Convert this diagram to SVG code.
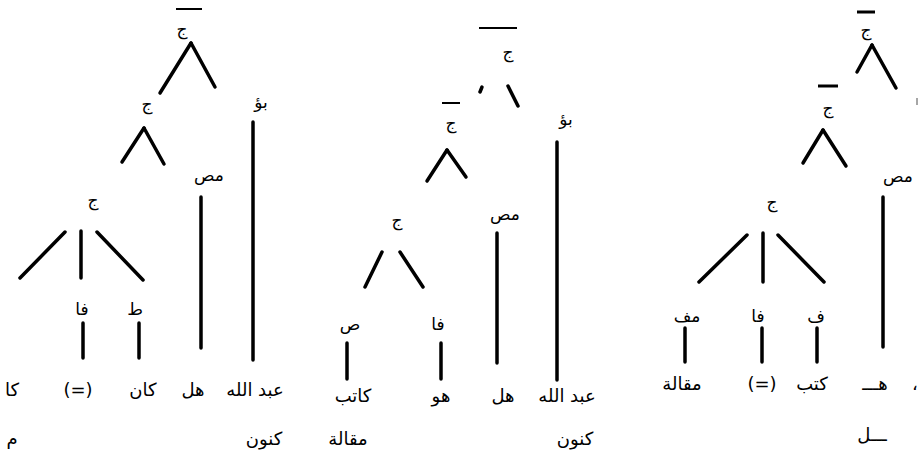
<svg xmlns="http://www.w3.org/2000/svg" width="924" height="456" viewBox="0 0 924 456">
<style>
.lb{font-family:"DejaVu Sans",sans-serif;font-size:17px;fill:#000;text-anchor:middle}
.wd{font-family:"DejaVu Sans",sans-serif;font-size:18px;fill:#000;text-anchor:middle}
.ln{stroke:#000;stroke-width:3.5;stroke-linecap:round;fill:none}
.bar{stroke:#000;stroke-width:2;fill:none}
.tk{stroke:#888;stroke-width:1.5;fill:none}
</style>
<rect width="924" height="456" fill="#fff"/>
<g id="connectors">
  <!-- left tree -->
  <line class="ln" x1="191" y1="43" x2="160" y2="93"/>
  <line class="ln" x1="191" y1="43" x2="215" y2="87"/>
  <line class="ln" x1="144" y1="128" x2="122" y2="162"/>
  <line class="ln" x1="144" y1="128" x2="164" y2="164"/>
  <line class="ln" x1="253" y1="122" x2="253" y2="360"/>
  <line class="ln" x1="201" y1="197" x2="201" y2="348"/>
  <line class="ln" x1="65" y1="232" x2="20" y2="278"/>
  <line class="ln" x1="81" y1="231" x2="81" y2="278"/>
  <line class="ln" x1="97" y1="232" x2="143" y2="280"/>
  <line class="ln" x1="83" y1="323" x2="83" y2="358"/>
  <line class="ln" x1="139" y1="323" x2="139" y2="358"/>
  <!-- middle tree -->
  <line class="ln" x1="482" y1="87" x2="480" y2="92"/>
  <line class="ln" x1="508" y1="86" x2="518" y2="106"/>
  <line class="ln" x1="447" y1="150" x2="427" y2="181"/>
  <line class="ln" x1="447" y1="150" x2="466" y2="177"/>
  <line class="ln" x1="557" y1="142" x2="557" y2="380"/>
  <line class="ln" x1="497" y1="233" x2="497" y2="363"/>
  <line class="ln" x1="382" y1="252" x2="365" y2="287"/>
  <line class="ln" x1="400" y1="252" x2="423" y2="287"/>
  <line class="ln" x1="347" y1="343" x2="347" y2="379"/>
  <line class="ln" x1="441" y1="343" x2="441" y2="379"/>
  <!-- right tree -->
  <line class="ln" x1="872" y1="45" x2="857" y2="72"/>
  <line class="ln" x1="872" y1="45" x2="896" y2="88"/>
  <line class="ln" x1="823" y1="130" x2="803" y2="163"/>
  <line class="ln" x1="823" y1="130" x2="846" y2="166"/>
  <line class="ln" x1="883" y1="197" x2="883" y2="347"/>
  <line class="ln" x1="747" y1="235" x2="699" y2="282"/>
  <line class="ln" x1="763" y1="233" x2="763" y2="282"/>
  <line class="ln" x1="778" y1="235" x2="824" y2="282"/>
  <line class="ln" x1="685" y1="328" x2="685" y2="362"/>
  <line class="ln" x1="762" y1="328" x2="762" y2="362"/>
  <line class="ln" x1="817" y1="328" x2="817" y2="362"/>
  <line class="tk" x1="917" y1="98" x2="917" y2="105"/>
</g>
<!-- left tree nodes -->
<g id="L-root"><line class="bar" x1="176" y1="9" x2="202" y2="9"/><text class="lb" x="182" y="35">ج</text></g>
<g id="L-j2"><text class="lb" x="147" y="110">ج</text></g>
<g id="L-bu"><text class="lb" x="261" y="108">بؤ</text></g>
<g id="L-mas"><text class="lb" x="209" y="181">مص</text></g>
<g id="L-j3"><text class="lb" x="93" y="206">ج</text></g>
<g id="L-fa"><text class="lb" x="82" y="315">فا</text></g>
<g id="L-ta"><text class="lb" x="135" y="315">ط</text></g>
<g id="L-words">
  <text class="wd" x="12" y="396">كا</text>
  <text class="wd" x="12" y="445">م</text>
  <text class="wd" x="78" y="396">(=)</text>
  <text class="wd" x="143" y="396">كان</text>
  <text class="wd" x="193" y="396">هل</text>
  <text class="wd" x="255" y="396">عبد الله</text>
  <text class="wd" x="264" y="445">كنون</text>
</g>
<!-- middle tree nodes -->
<g id="M-root"><line class="bar" x1="479" y1="28" x2="517" y2="28"/><text class="lb" x="508" y="58">ج</text></g>
<g id="M-j2"><line class="bar" x1="442" y1="103" x2="460" y2="103"/><text class="lb" x="451" y="129">ج</text></g>
<g id="M-bu"><text class="lb" x="566" y="125">بؤ</text></g>
<g id="M-mas"><text class="lb" x="505" y="220">مص</text></g>
<g id="M-j3"><text class="lb" x="397" y="226">ج</text></g>
<g id="M-sad"><text class="lb" x="350" y="330">ص</text></g>
<g id="M-fa"><text class="lb" x="438" y="330">فا</text></g>
<g id="M-words">
  <text class="wd" x="353" y="402">كاتب</text>
  <text class="wd" x="348" y="445">مقالة</text>
  <text class="wd" x="441" y="402">هو</text>
  <text class="wd" x="503" y="402">هل</text>
  <text class="wd" x="567" y="402">عبد الله</text>
  <text class="wd" x="575" y="445">كنون</text>
</g>
<!-- right tree nodes -->
<g id="R-root"><line class="bar" x1="857" y1="12" x2="875" y2="12" style="stroke-width:3"/><text class="lb" x="866" y="36">ج</text></g>
<g id="R-j2"><line class="bar" x1="818" y1="86" x2="838" y2="86" style="stroke-width:3"/><text class="lb" x="828" y="114">ج</text></g>
<g id="R-mas"><text class="lb" x="898" y="182">مص</text></g>
<g id="R-j3"><text class="lb" x="772" y="208">ج</text></g>
<g id="R-maf"><text class="lb" x="687" y="322">مف</text></g>
<g id="R-fa"><text class="lb" x="758" y="322">فا</text></g>
<g id="R-f"><text class="lb" x="816" y="322">ف</text></g>
<g id="R-words">
  <text class="wd" x="682" y="390">مقالة</text>
  <text class="wd" x="762" y="390">(=)</text>
  <text class="wd" x="812" y="390">كتب</text>
  <text class="wd" x="875" y="390">هـــ</text>
  <text class="wd" x="915" y="390">،</text>
  <text class="wd" x="872" y="441">ـــل</text>
</g>
</svg>
